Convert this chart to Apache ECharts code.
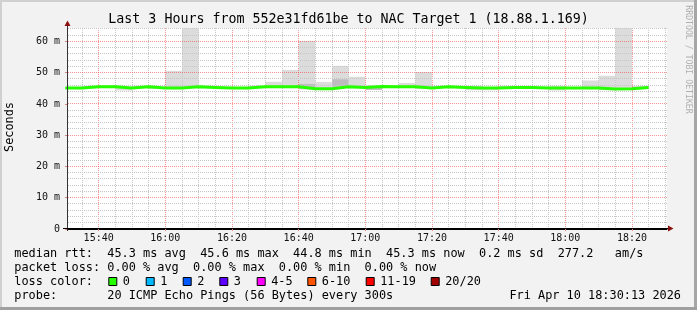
<!DOCTYPE html>
<html><head><meta charset="utf-8">
<script src="https://cdn.jsdelivr.net/npm/echarts@6/dist/echarts.min.js"></script>
<style>html,body{margin:0;padding:0;background:#f2f2f2;overflow:hidden}#c{width:697px;height:310px}</style>
</head><body><div id="c"></div>
<script>
// ---- data ----
const binStarts = ["15:30","15:35","15:40","15:45","15:50","15:55","16:00","16:05","16:10","16:15","16:20","16:25","16:30","16:35","16:40","16:45","16:50","16:55","17:00","17:05","17:10","17:15","17:20","17:25","17:30","17:35","17:40","17:45","17:50","17:55","18:00","18:05","18:10","18:15","18:20"];
const binEnd = "18:25";
const medianRtt = [45.1,45.5,45.5,45.1,45.5,45.1,45.1,45.5,45.3,45.1,45.1,45.5,45.5,45.5,44.9,44.9,45.5,45.3,45.6,45.5,45.5,45.1,45.5,45.3,45.1,45.1,45.3,45.3,45.1,45.1,45.1,45.1,44.8,44.9,45.3];
const smokeLow  = [44.8,45.2,45.2,44.3,45.2,44.8,44.8,45.2,45.0,44.8,44.8,45.2,45.2,45.2,44.6,44.6,45.2,45.0,44.5,45.2,45.2,44.8,45.2,45.0,44.4,44.4,45.0,45.0,44.8,44.3,44.8,44.8,44.4,44.6,45.0];
const smokeHigh = [45.4,45.8,45.8,45.4,45.8,45.4,50.6,68.0,45.8,45.4,45.4,45.9,47.1,50.9,60.2,47.0,52.2,48.7,45.9,45.8,46.7,50.2,45.8,45.6,45.8,45.4,45.8,45.6,45.4,45.8,45.4,47.5,49.0,68.0,45.8];
const coreLow   = [45.1,45.5,45.5,45.1,45.5,45.1,45.1,45.5,45.3,45.1,45.1,45.5,45.5,45.5,44.9,44.9,45.5,45.3,44.5,45.5,45.5,45.1,45.5,45.3,45.1,45.1,45.3,45.3,45.1,45.1,45.1,45.1,44.8,44.9,45.3];
const coreHigh  = [45.1,45.5,45.5,45.1,45.5,45.1,45.1,45.5,45.7,45.1,45.1,45.5,45.5,45.5,46.4,44.9,47.9,45.3,45.6,45.5,45.5,45.1,45.5,45.3,45.1,45.1,45.3,45.3,45.1,45.1,45.1,45.1,44.8,44.9,45.3];
const xStart = "15:30:30", xEnd = "18:30:30";
const xMajorLabels = ["15:40","16:00","16:20","16:40","17:00","17:20","17:40","18:00","18:20"];
const yMajorTicks = [0,10,20,30,40,50,60];
const yMax = 64.3;
const titleText = "Last 3 Hours from 552e31fd61be to NAC Target 1 (18.88.1.169)";
const legendRtt  = "median rtt:  45.3 ms avg  45.6 ms max  44.8 ms min  45.3 ms now  0.2 ms sd  277.2   am/s";
const legendLoss = "packet loss: 0.00 % avg  0.00 % max  0.00 % min  0.00 % now";
const legendProbe = "probe:       20 ICMP Echo Pings (56 Bytes) every 300s";
const stampText = "Fri Apr 10 18:30:13 2026";
const lossLabels = ["0","1","2","3","4-5","6-10","11-19","20/20"];
const lossColors = ["#26ff00","#00b8ff","#0059ff","#5e00ff","#ff00ff","#ff5500","#ff0000","#a10000"];

// ---- helpers ----
function toMin(s){ const p = s.split(':').map(Number); return p[0]*60 + p[1] + (p[2]||0)/60; }
function fmt(v){ const h = Math.floor(v/60), m = Math.round(v - h*60); return String(h).padStart(2,'0')+':'+String(m).padStart(2,'0'); }
const X0 = toMin(xStart), X1 = toMin(xEnd);
const xMajor = xMajorLabels.map(toMin);
const xGrid = [];
for (let t = Math.ceil(X0/5)*5; t <= X1; t += 5) xGrid.push([t, t % 20 === 0 ? 1 : 0]);
const yGrid = [];
for (let v = 2; v <= yMax; v += 2) yGrid.push([v, v % 10 === 0 ? 1 : 0]);

const ends = binStarts.slice(1).concat([binEnd]);
const smokeData = binStarts.map((s,i) => [toMin(s), toMin(ends[i]), smokeLow[i], smokeHigh[i], coreLow[i], coreHigh[i]]);
const lineData = binStarts.map((s,i) => [toMin(s), medianRtt[i]]);
lineData.push([toMin(binEnd), medianRtt[medianRtt.length-1]]);

const MONO = '"DejaVu Sans Mono", monospace';
const G = {left:67, top:28, width:600, height:201};
const MAJOR_C = 'rgba(255,0,0,0.42)', MINOR_C = '#c6c6c6';

function renderSmoke(params, api){
  const cs = params.coordSys;
  const clip = {x:cs.x, y:cs.y, width:cs.width, height:cs.height};
  const s = api.value(0), e = api.value(1);
  function mk(lo, hi, color){
    if (hi - lo <= 0) return null;
    const p1 = api.coord([s, hi]), p2 = api.coord([e, lo]);
    const r = echarts.graphic.clipRectByRect({x:p1[0], y:p1[1], width:p2[0]-p1[0], height:p2[1]-p1[1]}, clip);
    return r ? {type:'rect', shape:r, style:{fill:color}} : null;
  }
  const ch = [mk(api.value(2), api.value(3), '#dcdcdc'), mk(api.value(4), api.value(5), '#bdbdbd')].filter(Boolean);
  return {type:'group', children:ch};
}
function renderXGrid(params, api){
  const v = api.value(0), major = api.value(1);
  const p1 = api.coord([v, 0]), p2 = api.coord([v, yMax]);
  const x = Math.floor(p1[0]) + 0.5;
  return {type:'line', shape:{x1:x, y1:p1[1], x2:x, y2:p2[1]},
          style:{stroke: major ? MAJOR_C : MINOR_C, lineWidth:1, lineDash:[1,1]}};
}
function renderYGrid(params, api){
  const v = api.value(0), major = api.value(1);
  const p1 = api.coord([X0, v]), p2 = api.coord([X1, v]);
  const y = Math.floor(p1[1]) + 0.5;
  return {type:'line', shape:{x1:p1[0]+1, y1:y, x2:p2[0], y2:y},
          style:{stroke: major ? MAJOR_C : MINOR_C, lineWidth:1, lineDash:[1,1]}};
}

const graphics = [];
function txt(x, y, text, opt){
  graphics.push({type:'text', x:x, y:y, z:100, style:Object.assign({text:text, font:'11.88px '+MONO, fill:'#000', textAlign:'left', textVerticalAlign:'middle'}, opt||{})});
}
txt(348.5, 19.3, titleText, {font:'13.3px '+MONO, textAlign:'center'});
graphics.push({type:'text', x:10, y:127, rotation:Math.PI/2, z:100, style:{text:'Seconds', font:'11.88px '+MONO, fill:'#000', textAlign:'center', textVerticalAlign:'middle'}});
graphics.push({type:'text', x:687.7, y:59.5, rotation:-Math.PI/2, z:100, style:{text:'RRDTOOL / TOBI OETIKER', font:'8.2px '+MONO, fill:'#b0b0b0', textAlign:'center', textVerticalAlign:'middle'}});
txt(14.3, 254.3, legendRtt);
txt(14.3, 268.3, legendLoss);
txt(14.3, 281.8, "loss color:");
txt(14.3, 296, legendProbe);
txt(681, 296, stampText, {textAlign:'right'});
const boxX = [108.3,145.7,182.7,219.3,256.7,307.3,365.7,430.7];
lossLabels.forEach((l,i) => {
  graphics.push({type:'rect', z:100, shape:{x:boxX[i]+0.5, y:277.5, width:8, height:8}, style:{fill:lossColors[i], stroke:'#000', lineWidth:1}});
  txt(boxX[i]+14.5, 281.8, l);
});
// axis arrows and extensions (decoration)
graphics.push({type:'line', z:100, shape:{x1:67.5, y1:231, x2:67.5, y2:24}, style:{stroke:'#333', lineWidth:1}});
graphics.push({type:'polygon', z:101, shape:{points:[[64.5,26],[70.5,26],[67.5,20.5]]}, style:{fill:'#8b1010'}});
graphics.push({type:'line', z:100, shape:{x1:63, y1:228.5, x2:670, y2:228.5}, style:{stroke:'#000', lineWidth:1}});
graphics.push({type:'polygon', z:101, shape:{points:[[668,225.5],[668,231.5],[673.5,228.5]]}, style:{fill:'#8b1010'}});
// frame
graphics.push({type:'rect', z:100, shape:{x:0, y:0, width:697, height:2}, style:{fill:'#d0d0d0'}});
graphics.push({type:'rect', z:100, shape:{x:0, y:0, width:2, height:310}, style:{fill:'#d0d0d0'}});
graphics.push({type:'rect', z:100, shape:{x:694, y:0, width:3, height:310}, style:{fill:'#a6a6a6'}});
graphics.push({type:'rect', z:100, shape:{x:0, y:307, width:697, height:3}, style:{fill:'#a0a0a0'}});

const chart = echarts.init(document.getElementById('c'), null, {renderer:'canvas'});
chart.setOption({
  animation:false,
  backgroundColor:'#f2f2f2',
  grid:Object.assign({show:true, backgroundColor:'#ffffff', borderWidth:0, outerBoundsMode:'none', containLabel:false}, G),
  xAxis:{type:'value', min:X0, max:X1, position:'bottom', z:3,
     axisLine:{show:true, lineStyle:{color:'#000', width:1}},
     axisTick:{show:true, customValues:xMajor, length:2, lineStyle:{color:'#e08080'}},
     axisLabel:{show:true, customValues:xMajor, formatter:fmt, margin:4, color:'#111', fontFamily:MONO, fontSize:10},
     splitLine:{show:false}},
  yAxis:{type:'value', min:0, max:yMax, position:'left', z:3,
     axisLine:{show:true, lineStyle:{color:'#333', width:1}},
     axisTick:{show:true, customValues:yMajorTicks, length:2, lineStyle:{color:'#e08080'}},
     axisLabel:{show:true, customValues:yMajorTicks, formatter:v => v === 0 ? '0' : v + ' m', margin:7, color:'#111', fontFamily:MONO, fontSize:10},
     splitLine:{show:false}},
  series:[
    {type:'custom', name:'smoke', renderItem:renderSmoke, data:smokeData,
     encode:{x:[0,1], y:[2,3,4,5]}, z:2, silent:true},
    {type:'custom', name:'x grid', renderItem:renderXGrid, data:xGrid, encode:{x:0}, z:3, silent:true},
    {type:'custom', name:'y grid', renderItem:renderYGrid, data:yGrid, encode:{y:0}, z:3, silent:true},
    {type:'line', name:'median rtt', data:lineData, step:'end', showSymbol:false, symbol:'none',
     lineStyle:{color:'#26ff00', width:3}, z:5, clip:true, silent:true}
  ],
  graphic:graphics
});
</script></body></html>
